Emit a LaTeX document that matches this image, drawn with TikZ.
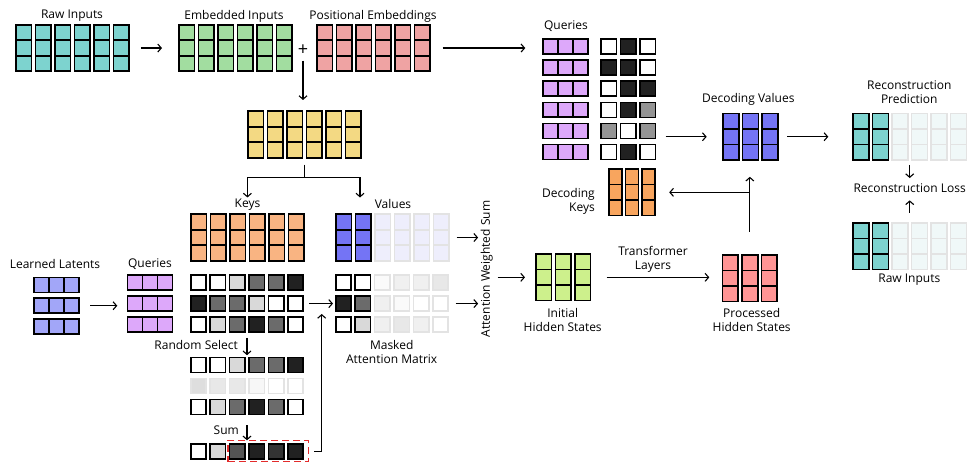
\documentclass[tikz,border=0pt]{standalone}
\usepackage{fontspec}
\setmainfont{Open Sans}
\usetikzlibrary{arrows.meta}

\definecolor{rawteal}{HTML}{7DD3CF}
\definecolor{tealfade}{HTML}{F0F8F8}
\definecolor{embgreen}{HTML}{A2DDA0}
\definecolor{pospink}{HTML}{EFA3A3}
\definecolor{sumyellow}{HTML}{F3D983}
\definecolor{keyorange}{HTML}{F9B482}
\definecolor{deckorange}{HTML}{F8A55E}
\definecolor{qpurple}{HTML}{DDA8FA}
\definecolor{latblue}{HTML}{A2A6F8}
\definecolor{valblue}{HTML}{7474F5}
\definecolor{valfade}{HTML}{EEEEFC}
\definecolor{initgreen}{HTML}{CDF08C}
\definecolor{procred}{HTML}{FF9494}
\definecolor{selred}{HTML}{E32B2B}

% column tensor: [pitch]{name}{x}{y}{cols}{solid cols}{colour}{faded colour}
\newcommand{\colblock}[8][19.5]{%
  \node[blk, minimum width={#5*#1-2.2}, minimum height=48.1, anchor=north west] (#2) at (#3,#4) {};
  \foreach \i in {1,...,#5} \foreach \j in {0,1,2} {
    \ifnum\i>#6 \draw[faded=#8] ({#3+#1*(\i-1)+0.8}, {#4+0.8+15.5*\j}) rectangle ++({#1-3.8}, 15.5);
    \else \draw[pix=#7] ({#3+#1*(\i-1)+0.8}, {#4+0.8+15.5*\j}) rectangle ++({#1-3.8}, 15.5);
    \fi
  }
}
% row tensor: [pitch]{name}{x}{y}{rows}{colour}
\newcommand{\rowblock}[6][21]{%
  \node[blk, minimum width=46.7, minimum height={#1*(#5-1)+16.5}, anchor=north west] (#2) at (#3,#4) {};
  \foreach \j in {1,...,#5} \foreach \i in {0,1,2}
    \draw[pix=#6] ({#3+0.8+15.03*\i}, {#4+0.8+#1*(\j-1)}) rectangle ++(15.03, 14.9);
}
% one row of a weight matrix: [pitch]{x}{y}{solid cells}{grey levels}
\newcommand{\gridrow}[5][19.4]{%
  \foreach \v [count=\i from 0] in {#5} {
    \ifnum\i<#4 \draw[pix=black!\v] ({#2+0.8+#1*\i}, {#3+0.8}) rectangle ++({#1-4}, 15);
    \else \draw[faded=black!\v] ({#2+0.8+#1*\i}, {#3+0.8}) rectangle ++({#1-4}, 15);
    \fi
  }
}

\begin{document}
\begin{tikzpicture}[
    x=1pt, y=-1pt,
    blk/.style={inner sep=0pt, outer sep=0pt},
    pix/.style={draw=black, line width=1.6pt, fill=#1},
    faded/.style={draw=black!11, line width=1.6pt, fill=#1},
    lbl/.style={font=\fontsize{12}{14}\selectfont, align=center, inner sep=0pt},
    arr/.style={-{Straight Barb[length=3.5pt, width=8pt]}, line width=1.1pt},
    link/.style={line width=1.1pt},
    selbox/.style={draw=selred, dash pattern=on 7pt off 4pt, line width=1.6pt, inner sep=0pt},
]
\useasboundingbox (0,0) rectangle (969,462);

% Input embeddings
\node[lbl] (rawlbl) at (72,16) {Raw Inputs};
\colblock{raw}{15}{24}{6}{6}{rawteal}{rawteal}
\node[lbl] (emblbl) at (234,16) {Embedded Inputs};
\colblock{emb}{178}{24}{6}{6}{embgreen}{embgreen}
\node[lbl, font=\fontsize{18}{18}\selectfont] (plus) at (303,50) {+};
\node[lbl] (poslbl) at (373,16) {Positional Embeddings};
\colblock{pos}{316}{24}{6}{6}{pospink}{pospink}

% Summed embeddings
\colblock{yel}{247}{110.5}{6}{6}{sumyellow}{sumyellow}

% Keys and values
\node[lbl] (keylbl) at (247.5,205) {Keys};
\colblock{keys}{190}{213.5}{6}{6}{keyorange}{keyorange}
\node[lbl] (vallbl) at (393,204) {Values};
\colblock{vals}{335}{213.5}{6}{2}{valblue}{valfade}

% Latents and queries
\node[lbl] (latlbl) at (55,264) {Learned Latents};
\rowblock[20.8]{lat}{33.3}{276.7}{3}{latblue}
\node[lbl] (qllbl) at (150,264) {Queries};
\rowblock{ql}{126.7}{274.3}{3}{qpurple}

% Attention matrix
\node[blk, minimum width=114, minimum height=58.6, anchor=north west] (attn) at (190,274.3) {};
\gridrow{190}{274.3}{6}{0,0,15,58,58,87}
\gridrow{190}{295.3}{6}{87,58,58,15,0,0}
\gridrow{190}{316.3}{6}{0,15,58,87,58,0}

% Masked attention matrix
\node[blk, minimum width=114, minimum height=58.6, anchor=north west] (mask) at (335,274.3) {};
\gridrow{335}{274.3}{2}{0,0,2,6,6,9}
\gridrow{335}{295.3}{2}{87,58,6,2,0,0}
\gridrow{335}{316.3}{2}{0,15,6,9,6,0}
\node[lbl] (masklbl) at (391.7,351.5) {Masked\\Attention Matrix};

% Random select and sum
\node[blk, minimum width=114, minimum height=58.6, anchor=north west] (rsel) at (190,356.7) {};
\gridrow{190}{356.7}{6}{0,0,15,58,58,87}
\gridrow{190}{377.7}{0}{13,9,9,3,0,0}
\gridrow{190}{398.7}{6}{0,15,58,87,58,0}
\node[lbl, anchor=east] (rslbl) at (238,345) {Random Select};
\node[blk, minimum width=114, minimum height=16.6, anchor=north west] (sumrow) at (190,443.3) {};
\gridrow{190}{443.3}{6}{0,15,67,87,80,87}
\node[lbl, anchor=east] (sumlbl) at (239,430) {Sum};
\node[selbox, minimum width=80.4, minimum height=21.5, anchor=north west] (sel) at (227.3,439.5) {};

% Attention weighted sum
\node[lbl, rotate=90] (aws) at (486.7,269) {Attention Weighted Sum};

% Hidden states
\colblock{init}{535}{253.3}{3}{3}{initgreen}{initgreen}
\node[lbl] (initlbl) at (562.7,319.7) {Initial\\Hidden States};
\node[lbl] (trlbl) at (653,259.7) {Transformer\\Layers};
\colblock{proc}{721.7}{254.3}{3}{3}{procred}{procred}
\node[lbl] (proclbl) at (751.7,319.7) {Processed\\Hidden States};

% Decoder
\node[lbl] (qrlbl) at (566,25.7) {Queries};
\rowblock[21.1]{qr}{542.3}{38.3}{6}{qpurple}
\node[blk, minimum width=56.2, minimum height=122.1, anchor=north west] (qgrid) at (600,38.3) {};
\gridrow[19.5]{600}{38.3}{3}{0,87,0}
\gridrow[19.5]{600}{59.4}{3}{87,87,0}
\gridrow[19.5]{600}{80.5}{3}{0,87,87}
\gridrow[19.5]{600}{101.6}{3}{0,87,42}
\gridrow[19.5]{600}{122.7}{3}{42,0,42}
\gridrow[19.5]{600}{143.8}{3}{0,87,0}
\colblock[16.5]{deck}{608.3}{168.3}{3}{3}{deckorange}{deckorange}
\node[lbl, align=right, anchor=east] (decklbl) at (595,201.8) {Decoding\\Keys};
\node[lbl] (decvlbl) at (748.3,99.3) {Decoding Values};
\colblock{decv}{722.3}{112.7}{3}{3}{valblue}{valblue}

% Reconstruction
\node[lbl] (recplbl) at (909.3,92) {Reconstruction\\Prediction};
\colblock{recp}{852.3}{112.7}{6}{2}{rawteal}{tealfade}
\node[lbl] (loss) at (909.7,187.7) {Reconstruction Loss};
\colblock{rawr}{852.3}{222.3}{6}{2}{rawteal}{tealfade}
\node[lbl] (rawrlbl) at (909.3,279.3) {Raw Inputs};

% Connectors
\draw[arr, shorten <=11pt, shorten >=16pt] (raw) -- (emb);
\draw[arr, shorten <=5pt, shorten >=10.5pt] (plus) -- (plus |- yel.north);
\draw[arr, shorten <=11.7pt, shorten >=17pt] (pos) -- (pos -| qr.west);
\draw[link, shorten <=6pt] (yel.south) -- ++(0,19) coordinate (split);
\coordinate (valin) at (360,213.5);
\draw[arr, shorten >=16pt] (split) -| (keys.north);
\draw[arr, shorten >=16pt] (split) -| (valin);
\draw[arr, shorten <=10pt, shorten >=9.4pt] (lat) -- (lat -| ql.west);
\draw[arr, shorten <=5pt, shorten >=2pt] (attn.east) -- (mask.west);
\draw[arr, shorten <=5pt, shorten >=1.5pt] (attn) -- (rsel);
\draw[arr, shorten <=10pt, shorten >=3pt] (rsel) -- (sumrow);
\coordinate (join) at (321.7,314);
\draw[arr, shorten <=5pt] (sel.east) -| (join);
\draw[arr, shorten <=6.7pt, shorten >=2.4pt] (vals.east) -- (vals.east -| aws.north);
\draw[arr, shorten <=6.7pt, shorten >=2.4pt] (mask.east) -- (mask.east -| aws.north);
\draw[arr, shorten <=4.6pt, shorten >=10pt] (init.west -| aws.south) -- (init.west);
\draw[arr, shorten <=15.4pt, shorten >=12.4pt] (init.east) -- (init.east -| proc.west);
\draw[arr, shorten <=22.6pt, shorten >=16pt] (proc.north) -- (proc.north |- decv.south);
\draw[arr, shorten >=13.6pt] (deck.east -| proc.north) -- (deck.east);
\draw[arr, shorten <=9.4pt, shorten >=15.6pt] (decv.west -| qgrid.east) -- (decv.west);
\draw[arr, shorten <=8.4pt, shorten >=24pt] (decv) -- (recp);
\draw[arr, shorten <=4.2pt, shorten >=5pt] (recp) -- (loss);
\draw[arr, shorten <=9.3pt, shorten >=8pt] (rawr) -- (loss);

\end{tikzpicture}
\end{document}
